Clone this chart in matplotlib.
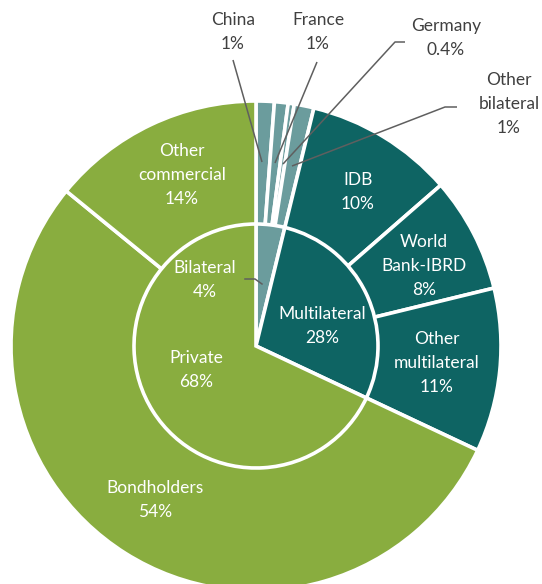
import matplotlib

matplotlib.use('Agg')

import matplotlib.pyplot as plt

# outer ring: lenders, clockwise from 12 o'clock
outer_labels = ['China', 'France', 'Germany', 'Other\nbilateral', 'IDB',
                'World\nBank-IBRD', 'Other\nmultilateral', 'Bondholders', 'Other\ncommercial']
outer_pct = ['1%', '1%', '0.4%', '1%', '10%', '8%', '11%', '54%', '14%']
outer_vals = [1.2, 0.9, 0.4, 1.3, 9.8, 7.6, 10.8, 53.9, 14.1]

# inner pie: creditor groups
inner_labels = ['Bilateral', 'Multilateral', 'Private']
inner_pct = ['4%', '28%', '68%']
inner_vals = [3.8, 28.2, 68.0]

GREY = '#6b9c9d'
TEAL = '#0e6463'
GREEN = '#89ad3f'
outer_colors = [GREY] * 4 + [TEAL] * 3 + [GREEN] * 2
inner_colors = [GREY, TEAL, GREEN]

plt.rcParams['font.family'] = ['Lato', 'DejaVu Sans']

W, H = 542, 584
fig = plt.figure(figsize=(W / 100, H / 100), dpi=100)
ax = fig.add_axes([0, 0, 1, 1])


def py(y):
    # pixel row (from top) -> axis y
    return H - y


cx, cy = 256, py(346)
R_OUT, R_IN = 245, 122

wp = dict(edgecolor='white', linewidth=2.6)
ax.pie(outer_vals, radius=R_OUT, center=(cx, cy), startangle=90,
       counterclock=False, colors=outer_colors, wedgeprops=wp)
ax.pie(inner_vals, radius=R_IN, center=(cx, cy), startangle=90,
       counterclock=False, colors=inner_colors, wedgeprops=wp)

ax.set_xlim(0, W)
ax.set_ylim(0, H)
ax.set_aspect('equal')
ax.axis('off')

FS = 12.5
LS = 1.58
DARK = '#404040'
LINE = '#5f5f5f'

# outside labels with leader lines
outside = {
    0: ((233, 32), [(233, 60), (262, 162)]),
    1: ((318, 32), [(317, 62), (275, 163)]),
    2: ((446, 38), [(405, 42), (395, 42), (283, 164)]),
    3: ((509, 104), [(457, 107), (445, 107), (292, 166)]),
}
for i, ((tx, ty), pts) in outside.items():
    ax.text(tx, py(ty), outer_labels[i] + '\n' + outer_pct[i], ha='center', va='center',
            fontsize=FS, color=DARK, linespacing=LS)
    ax.plot([p[0] for p in pts], [py(p[1]) for p in pts], color=LINE, lw=1.1,
            solid_capstyle='butt')

inside_outer = {4: (358, 192), 5: (424, 266), 6: (437, 363), 7: (155, 500), 8: (182, 175)}
for i, (tx, ty) in inside_outer.items():
    ax.text(tx, py(ty), outer_labels[i] + '\n' + outer_pct[i], ha='center', va='center',
            fontsize=FS, color='white', linespacing=LS)

inner_pos = [(205, 280), (322, 326), (196, 370)]
for lab, pct, (tx, ty) in zip(inner_labels, inner_pct, inner_pos):
    ax.text(tx, py(ty), lab + '\n' + pct, ha='center', va='center',
            fontsize=FS, color='white', linespacing=LS)

# short leader for the bilateral slice
ax.plot([245, 255, 262], [py(279), py(279), py(284)], color=LINE, lw=1.1)

fig.savefig('out.png', dpi=100)
